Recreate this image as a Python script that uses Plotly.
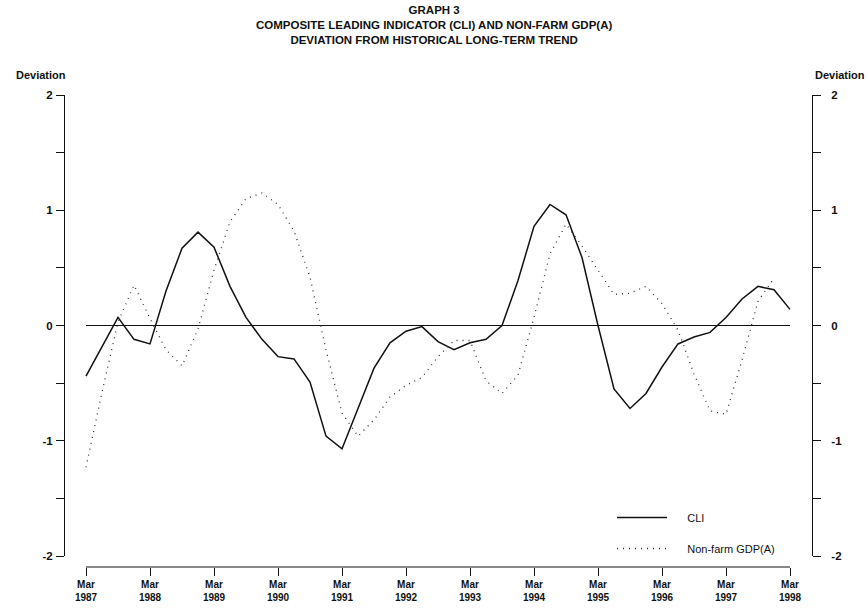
import plotly.graph_objects as go

# Quarterly periods, Mar 1987 .. Mar 1998
months = ["Mar", "Jun", "Sep", "Dec"]
years = list(range(1987, 1999))
quarters = [f"{m} {y}" for y in years for m in months][:45]

cli = [-0.44, -0.18, 0.07, -0.12, -0.16, 0.30, 0.67, 0.81, 0.68, 0.34,
       0.07, -0.12, -0.27, -0.29, -0.49, -0.96, -1.07, -0.72, -0.37, -0.15,
       -0.05, -0.01, -0.14, -0.21, -0.15, -0.12, 0.00, 0.39, 0.86, 1.05,
       0.96, 0.59, 0.00, -0.55, -0.72, -0.59, -0.36, -0.16, -0.10, -0.06,
       0.07, 0.23, 0.34, 0.31, 0.14]

gdp = [-1.23, -0.58, 0.03, 0.35, 0.06, -0.21, -0.35, -0.03, 0.48, 0.90,
       1.10, 1.15, 1.05, 0.82, 0.42, -0.21, -0.76, -0.96, -0.82, -0.62,
       -0.52, -0.45, -0.27, -0.13, -0.13, -0.48, -0.59, -0.43, 0.07, 0.62,
       0.88, 0.69, 0.48, 0.27, 0.28, 0.34, 0.19, -0.04, -0.42, -0.74,
       -0.77, -0.30, 0.21, 0.41]

x_tick_vals = [f"Mar {y}" for y in years]
x_tick_text = [f"<b>Mar<br>{y}</b>" for y in years]

y_tick_vals = [-2, -1.5, -1, -0.5, 0, 0.5, 1, 1.5, 2]
y_tick_text = ["<b>-2</b>", "", "<b>-1</b>", "", "<b>0</b>", "", "<b>1</b>", "", "<b>2</b>"]

title_lines = ["GRAPH 3",
               "COMPOSITE LEADING INDICATOR (CLI) AND NON-FARM GDP(A)",
               "DEVIATION FROM HISTORICAL LONG-TERM TREND"]

zero_line = [0, 0]

FONT = "Liberation Sans, Arial, Helvetica, sans-serif"

fig = go.Figure()

fig.add_trace(go.Scatter(
    x=[quarters[0], quarters[-1]], y=zero_line, mode="lines",
    line=dict(color="#111", width=1), showlegend=False, hoverinfo="skip"))

fig.add_trace(go.Scatter(
    x=quarters, y=cli, mode="lines", name="     CLI", legendgroup="a",
    line=dict(color="#111", width=1.5)))

fig.add_trace(go.Scatter(
    x=quarters[:len(gdp)], y=gdp, mode="lines", name="     Non-farm GDP(A)",
    legendgroup="b",
    line=dict(color="#333", width=1.3, dash="1px,5px")))

# dummy trace to activate right axis
fig.add_trace(go.Scatter(x=[quarters[0]], y=[None], yaxis="y2",
                         showlegend=False, hoverinfo="skip"))

W, H = 868, 612
left_px, right_px = 65, 812
top_px, bottom_px = 95, 567
y_bottom_px = 556
ydom0 = (bottom_px - y_bottom_px) / (bottom_px - top_px)

n = len(quarters) - 1
px_per = (790 - 86) / n
xr0 = -(86 - left_px) / px_per
xr1 = n + (right_px - 790) / px_per

fig.update_layout(
    width=W, height=H,
    margin=dict(l=left_px, r=W - right_px, t=top_px, b=H - bottom_px, pad=0,
                autoexpand=False),
    paper_bgcolor="white", plot_bgcolor="white",
    font=dict(family=FONT, color="#111"),
    xaxis=dict(
        type="category", categoryorder="array", categoryarray=quarters,
        range=[xr0, xr1], showgrid=False, zeroline=False, showline=False,
        tickmode="array", tickvals=x_tick_vals, ticktext=x_tick_text,
        ticks="outside", ticklen=8, tickwidth=1, tickcolor="#111",
        tickfont=dict(size=10, family=FONT, color="#111"),
        anchor="free", position=0, tickangle=0, automargin=False),
    yaxis=dict(
        domain=[ydom0, 1], range=[-2, 2], showgrid=False, zeroline=False,
        showline=True, linecolor="#111", linewidth=1,
        tickmode="array", tickvals=y_tick_vals, ticktext=y_tick_text,
        ticks="outside", ticklen=8, tickwidth=1, tickcolor="#111",
        tickfont=dict(size=11.5, family=FONT, color="#111"), ticklabelstandoff=1,
        automargin=False),
    yaxis2=dict(
        domain=[ydom0, 1], range=[-2, 2], overlaying="y", side="right",
        anchor="x", showgrid=False, zeroline=False,
        showline=True, linecolor="#111", linewidth=1,
        tickmode="array", tickvals=y_tick_vals, ticktext=y_tick_text,
        ticks="outside", ticklen=8, tickwidth=1, tickcolor="#111",
        tickfont=dict(size=11.5, family=FONT, color="#111"), ticklabelstandoff=8,
        automargin=False),
    legend=dict(
        x=(612 - left_px) / (right_px - left_px), xanchor="left",
        y=(bottom_px - 503) / (bottom_px - top_px), yanchor="top",
        bgcolor="rgba(0,0,0,0)", borderwidth=0, itemwidth=50,
        tracegroupgap=12, font=dict(size=11, family=FONT, color="#111")),
    showlegend=True,
)

# x-axis baseline between first and last quarter
fig.add_shape(type="line", xref="x", yref="paper", x0=0, x1=n, y0=0, y1=0,
              line=dict(color="#111", width=1))

# title (three stacked lines)
fig.add_annotation(text="<b>" + "<br>".join(title_lines) + "</b>",
                   xref="paper", yref="paper",
                   x=(434 - left_px) / (right_px - left_px),
                   y=1 + (top_px - 25) / (bottom_px - top_px),
                   xanchor="center", yanchor="middle", showarrow=False,
                   font=dict(size=11.5, family=FONT, color="#111"))

fig.add_annotation(text="<b>Deviation</b>", xref="paper", yref="paper",
                   x=(41 - left_px) / (right_px - left_px), y=1 + 20 / (bottom_px - top_px),
                   xanchor="center", yanchor="middle", showarrow=False,
                   font=dict(size=11, family=FONT, color="#111"))
fig.add_annotation(text="<b>Deviation</b>", xref="paper", yref="paper",
                   x=(840 - left_px) / (right_px - left_px), y=1 + 20 / (bottom_px - top_px),
                   xanchor="center", yanchor="middle", showarrow=False,
                   font=dict(size=11, family=FONT, color="#111"))

fig.write_html("out.html", config={"displayModeBar": False},
               post_script="document.body.style.margin='0';document.body.style.padding='0';")
